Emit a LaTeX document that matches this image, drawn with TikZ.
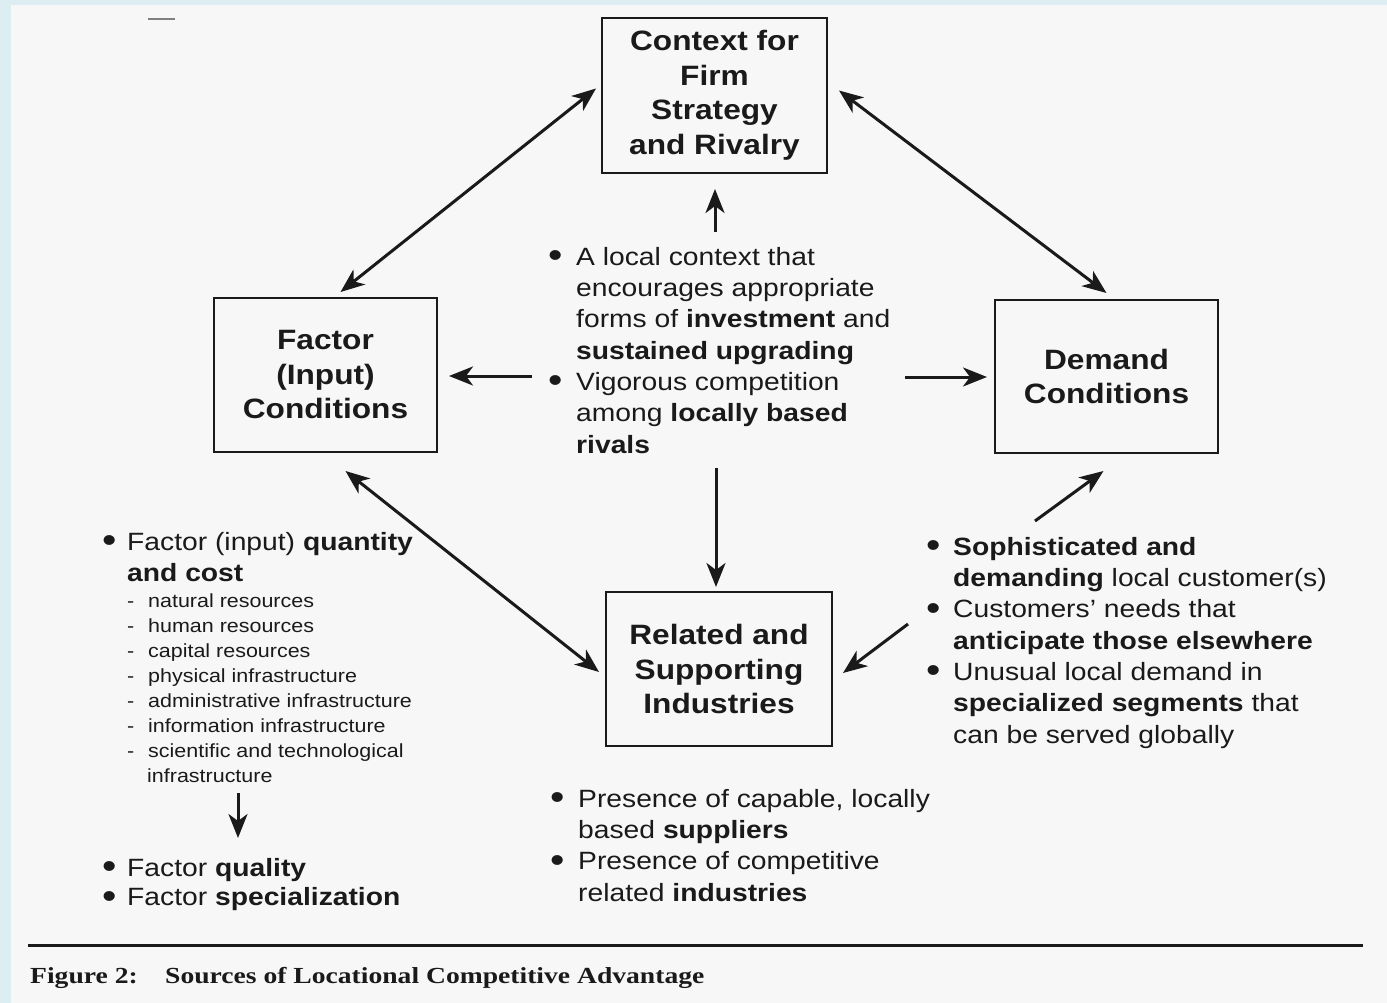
\documentclass[tikz,border=0pt]{standalone}
\usepackage{fontspec}
\usepackage{graphicx}
\setmainfont{Liberation Sans}[FakeStretch=1.13]
\newfontfamily\capfont{Liberation Serif}[FakeStretch=1.2]
\usetikzlibrary{arrows.meta,calc}
\definecolor{edge}{HTML}{DCEEF2}
\definecolor{paper}{HTML}{F7F7F7}
\definecolor{ink}{HTML}{1A1A1A}
\newcommand\bul[1]{\makebox[#1pt][l]{\raisebox{-2.5pt}{\scalebox{1.45}{•}}}}
\newcommand\ind[1]{\hspace*{#1pt}}
\newcommand\dsh{\makebox[21pt][l]{-}}
\newcommand\strt[1]{\vrule height #1pt depth 0pt width 0pt}
\tikzset{
  box/.style={draw=ink, line width=2pt, inner sep=0pt, align=center, text=ink,
    font=\fontsize{28}{34.5}\selectfont\bfseries},
  txt/.style={anchor=north west, inner sep=0pt, align=left, text=ink,
    font=\fontsize{25}{31.3}\selectfont},
  small/.style={anchor=north west, inner sep=0pt, align=left, text=ink,
    font=\fontsize{19}{25}\selectfont},
  arr/.style={line width=3pt, draw=ink, -{Stealth[length=24pt,width=19pt,inset=7pt]}},
  dbl/.style={line width=3pt, draw=ink, {Stealth[length=24pt,width=19pt,inset=7pt]}-{Stealth[length=24pt,width=19pt,inset=7pt]}}
}
\begin{document}
\begin{tikzpicture}[x=1pt,y=-1pt]
\fill[edge] (0,0) rectangle (1387,1003);
\fill[paper] (11,5) rectangle (1387,1003);
\useasboundingbox (0,0) rectangle (1387,1003);
\draw[line width=1.5pt, gray] (148,19) -- (175,19);

% boxes
\node[box, minimum width=225pt, minimum height=155pt] (ctx) at (714.5,95.5)
  {Context for\\Firm\\Strategy\\and Rivalry};
\node[box, minimum width=223pt, minimum height=154pt] (fac) at (325.5,375)
  {Factor\\(Input)\\Conditions};
\node[box, minimum width=223pt, minimum height=153pt] (dem) at (1106.5,376.5)
  {Demand\\Conditions};
\node[box, minimum width=226pt, minimum height=154pt] (rel) at (719,669)
  {Related and\\Supporting\\Industries};

% text blocks
\node[txt] (ctxt) at (548,245) {\strt{20}\bul{28}A local context that\\
  \ind{28}encourages appropriate\\
  \ind{28}forms of \textbf{investment} and\\
  \ind{28}\textbf{sustained upgrading}\\
  \bul{28}Vigorous competition\\
  \ind{28}among \textbf{locally based}\\
  \ind{28}\textbf{rivals}};

\node[txt] (dtxt) at (926,535) {\strt{20}\bul{27}\textbf{Sophisticated and}\\
  \ind{27}\textbf{demanding} local customer(s)\\
  \bul{27}Customers' needs that\\
  \ind{27}\textbf{anticipate those elsewhere}\\
  \bul{27}Unusual local demand in\\
  \ind{27}\textbf{specialized segments} that\\
  \ind{27}can be served globally};

\node[txt] (rtxt) at (550,787) {\strt{20}\bul{28}Presence of capable, locally\\
  \ind{28}based \textbf{suppliers}\\
  \bul{28}Presence of competitive\\
  \ind{28}related \textbf{industries}};

\node[txt] (ftxt) at (102,530) {\strt{20}\bul{25}Factor (input) \textbf{quantity}\\
  \ind{25}\textbf{and cost}};

\node[small] (fsub) at (127,592) {\strt{15}\dsh natural resources\\
  \dsh human resources\\
  \dsh capital resources\\
  \dsh physical infrastructure\\
  \dsh administrative infrastructure\\
  \dsh information infrastructure\\
  \dsh scientific and technological\\
  \ind{20}infrastructure};

\node[txt, font=\fontsize{25}{29.5}\selectfont] (ffin) at (102,856)
  {\strt{20}\bul{25}Factor \textbf{quality}\\
  \bul{25}Factor \textbf{specialization}};

% caption
\draw[line width=3pt, ink] (28,945) -- (1363,945);
\node[anchor=north west, inner sep=0pt, text=ink, font=\capfont\bfseries\fontsize{23}{27}\selectfont]
  (cap) at (30,966) {\strt{17}\makebox[135pt][l]{Figure 2:}Sources of Locational Competitive Advantage};

% free ends
\coordinate (cUp) at (715,232);
\coordinate (cL) at (532,376);
\coordinate (cR) at (905,377);
\coordinate (cDn) at (716,468);
\coordinate (dUp) at (1035,521);
\coordinate (dL) at (908,624);
\coordinate (fDn) at (238,793);
\coordinate (fDnEnd) at (238,838);

% connectors
\draw[dbl] ($(ctx.west)+(-5,-7)$) -- ($(fac.north)+(15,-5)$);
\draw[dbl] ($(ctx.east)+(11,-5)$) -- ($(dem.north)+(0,-6)$);
\draw[dbl] ($(fac.south)+(20,18)$) -- ($(rel.west)+(-6,3)$);
\draw[arr] (cUp) -- ($(ctx.south)+(0.5,15)$);
\draw[arr] (cL) -- ($(fac.east)+(11,1)$);
\draw[arr] (cR) -- ($(dem.west)+(-7,0.5)$);
\draw[arr] (cDn) -- ($(rel.north)+(-3,-4)$);
\draw[arr] (dUp) -- ($(dem.south)+(-3,17)$);
\draw[arr] (dL) -- ($(rel.east)+(10,4)$);
\draw[arr] (fDn) -- (fDnEnd);
\end{tikzpicture}
\end{document}
